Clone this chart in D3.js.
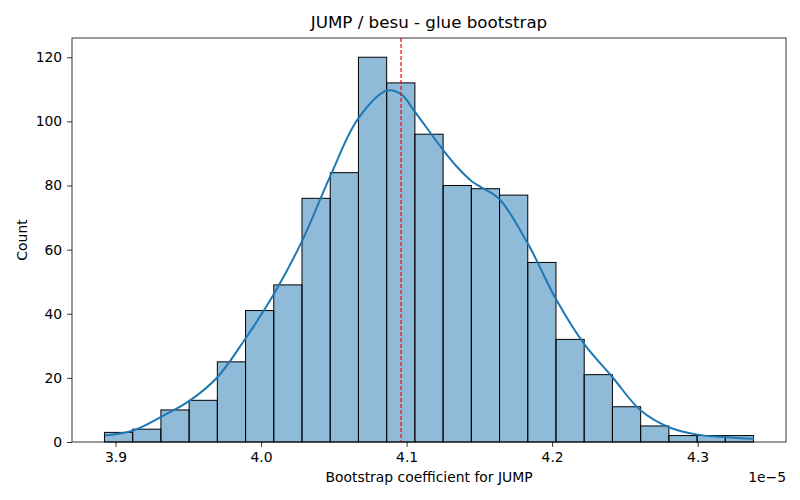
<!DOCTYPE html>
<html>
<head>
<meta charset="utf-8">
<script src="https://d3js.org/d3.v7.min.js"></script>
<style>
    body { margin: 0; background: #fff; }
    svg text { font-family: "DejaVu Sans", sans-serif; fill: #000; }
</style>
</head>
<body>
<div id="chart"></div>
<script>
// histogram bins (x in units of 1e-5)
const binStart = 3.8924;
const binWidth = 0.019391;
const counts = [3, 4, 10, 13, 25, 41, 49, 76, 84, 120, 112, 96, 80, 79, 77, 56, 32, 21, 11, 5, 2, 2, 2];

// kde curve (x, count)
const kdeX = [3.8927, 3.9121, 3.9316, 3.9510, 3.9700, 3.9892, 4.0089, 4.0283, 4.0477, 4.0665,
              4.0866, 4.0962, 4.1060, 4.1254, 4.1351, 4.1443, 4.1511, 4.1637, 4.1834, 4.2026,
              4.2220, 4.2415, 4.2609, 4.2803, 4.2998, 4.3192, 4.3387];
const kdeY = [2.0, 3.6, 7.9, 12.9, 20.2, 32.2, 46.2, 62.8, 83.1, 100.7,
              109.6, 108.5, 102.8, 90.9, 85.6, 81.5, 79.5, 75.8, 61.8, 44.6,
              30.6, 20.2, 9.8, 4.6, 2.3, 1.5, 1.0];

const meanValue = 4.0962;
const xTicks = [3.9, 4.0, 4.1, 4.2, 4.3];
const yTicks = [0, 20, 40, 60, 80, 100, 120];

const width = 800, height = 500;
const plot = { left: 72, right: 786, top: 38, bottom: 442 };

const svg = d3.select('#chart').append('svg')
    .attr('width', width)
    .attr('height', height);

const x = d3.scaleLinear().domain([3.8701, 4.3607]).range([plot.left, plot.right]);
const y = d3.scaleLinear().domain([0, 126]).range([plot.bottom, plot.top]);

// bars
svg.append('g')
    .selectAll('rect')
    .data(counts)
    .enter()
    .append('rect')
    .attr('x', (d, i) => x(binStart + i * binWidth))
    .attr('width', (d, i) => x(binStart + (i + 1) * binWidth) - x(binStart + i * binWidth))
    .attr('y', d => y(d))
    .attr('height', d => y(0) - y(d))
    .style('fill', 'rgba(31,119,180,0.5)')
    .style('stroke', '#000')
    .style('stroke-width', 1);

// kde line
const kde = kdeX.map((v, i) => [v, kdeY[i]]);
svg.append('path')
    .datum(kde)
    .attr('d', d3.line().x(d => x(d[0])).y(d => y(d[1])).curve(d3.curveCatmullRom))
    .style('fill', 'none')
    .style('stroke', '#1f77b4')
    .style('stroke-width', 2);

// mean line
svg.append('line')
    .attr('x1', x(meanValue)).attr('x2', x(meanValue))
    .attr('y1', plot.top).attr('y2', plot.bottom)
    .style('stroke', 'red')
    .style('stroke-width', 1.2)
    .style('stroke-dasharray', '4,2');

// axes
const xAxis = svg.append('g')
    .attr('transform', `translate(0,${plot.bottom})`)
    .call(d3.axisBottom(x).tickValues(xTicks).tickFormat(d3.format('.1f')).tickSize(4.9).tickPadding(4.9));
const yAxis = svg.append('g')
    .attr('transform', `translate(${plot.left},0)`)
    .call(d3.axisLeft(y).tickValues(yTicks).tickSize(4.9).tickPadding(4.9));

[xAxis, yAxis].forEach(a => {
    a.select('.domain').remove();
    a.selectAll('line').style('stroke', '#000').style('stroke-width', 0.8);
    a.selectAll('text').style('font-size', '13.9px').style('font-family', '"DejaVu Sans", sans-serif');
});

// frame
svg.append('rect')
    .attr('x', plot.left).attr('y', plot.top)
    .attr('width', plot.right - plot.left).attr('height', plot.bottom - plot.top)
    .style('fill', 'none').style('stroke', '#000').style('stroke-width', 0.8);

// labels
svg.append('text')
    .attr('x', (plot.left + plot.right) / 2).attr('y', 28)
    .attr('text-anchor', 'middle')
    .style('font-size', '16.7px')
    .text('JUMP / besu - glue bootstrap');

svg.append('text')
    .attr('x', (plot.left + plot.right) / 2).attr('y', 482)
    .attr('text-anchor', 'middle')
    .style('font-size', '13.9px')
    .text('Bootstrap coefficient for JUMP');

svg.append('text')
    .attr('transform', `translate(27,${(plot.top + plot.bottom) / 2}) rotate(-90)`)
    .attr('text-anchor', 'middle')
    .style('font-size', '13.9px')
    .text('Count');

svg.append('text')
    .attr('x', plot.right).attr('y', 482)
    .attr('text-anchor', 'end')
    .style('font-size', '13.9px')
    .text('1e\u22125');
</script>
</body>
</html>
